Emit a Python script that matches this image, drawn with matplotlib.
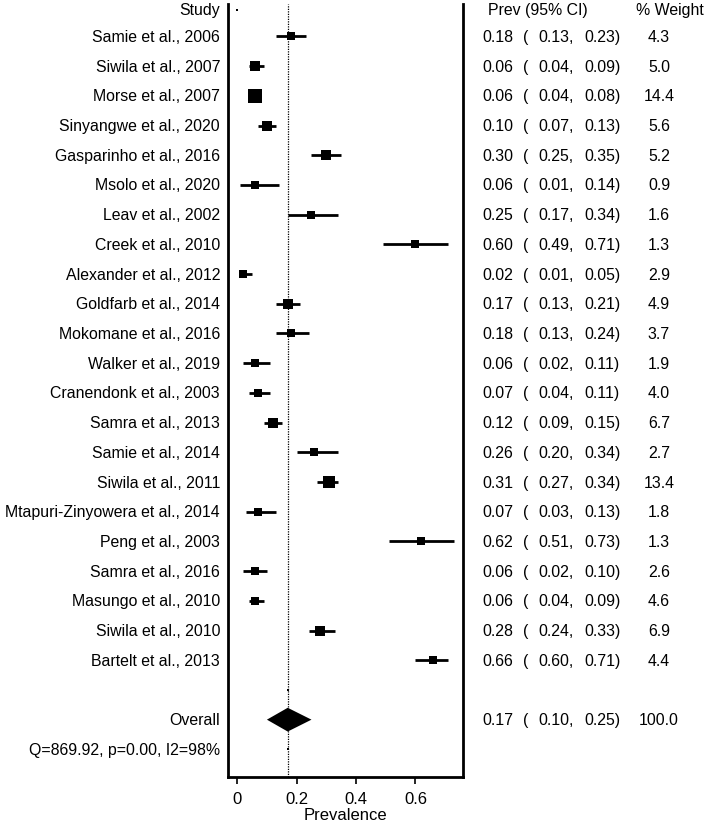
import matplotlib
matplotlib.use("Agg")
import matplotlib.pyplot as plt
from matplotlib.transforms import blended_transform_factory
import numpy as np

plt.rcParams['font.family'] = ['Liberation Sans', 'DejaVu Sans']

studies = ["Samie et al., 2006", "Siwila et al., 2007", "Morse et al., 2007",
           "Sinyangwe et al., 2020", "Gasparinho et al., 2016", "Msolo et al., 2020",
           "Leav et al., 2002", "Creek et al., 2010", "Alexander et al., 2012",
           "Goldfarb et al., 2014", "Mokomane et al., 2016", "Walker et al., 2019",
           "Cranendonk et al., 2003", "Samra et al., 2013", "Samie et al., 2014",
           "Siwila et al., 2011", "Mtapuri-Zinyowera et al., 2014", "Peng et al., 2003",
           "Samra et al., 2016", "Masungo et al., 2010", "Siwila et al., 2010",
           "Bartelt et al., 2013"]
prev = [0.18, 0.06, 0.06, 0.10, 0.30, 0.06, 0.25, 0.60, 0.02, 0.17, 0.18,
        0.06, 0.07, 0.12, 0.26, 0.31, 0.07, 0.62, 0.06, 0.06, 0.28, 0.66]
lower = [0.13, 0.04, 0.04, 0.07, 0.25, 0.01, 0.17, 0.49, 0.01, 0.13, 0.13,
         0.02, 0.04, 0.09, 0.20, 0.27, 0.03, 0.51, 0.02, 0.04, 0.24, 0.60]
upper = [0.23, 0.09, 0.08, 0.13, 0.35, 0.14, 0.34, 0.71, 0.05, 0.21, 0.24,
         0.11, 0.11, 0.15, 0.34, 0.34, 0.13, 0.73, 0.10, 0.09, 0.33, 0.71]
weight = [4.3, 5.0, 14.4, 5.6, 5.2, 0.9, 1.6, 1.3, 2.9, 4.9, 3.7,
          1.9, 4.0, 6.7, 2.7, 13.4, 1.8, 1.3, 2.6, 4.6, 6.9, 4.4]
overall = (0.17, 0.10, 0.25, 100.0)
het_text = "Q=869.92, p=0.00, I2=98%"
xticks = [0, 0.2, 0.4, 0.6]

W, H = 709, 828
fig = plt.figure(figsize=(W / 100, H / 100), dpi=100)
ax = fig.add_axes([227.7 / W, 1 - 778 / H, (463 - 227.7) / W, (778 - 5) / H])

n = len(studies)
rows = np.arange(n)
ov_row = n + 1
q_row = n + 2
head_row = -0.9

ax.set_xlim(-0.032, 0.76)
ax.set_ylim(q_row + 0.93, -1.09)

# reference line
ax.axvline(overall[0], color='black', lw=0.9, ls=(0, (1, 1)), zorder=1)

# CIs and squares
for i in range(n):
    ax.plot([lower[i], upper[i]], [rows[i], rows[i]], color='black', lw=2.0,
            solid_capstyle='butt', zorder=2)
    side_px = 7 + 0.42 * weight[i]
    ax.plot(prev[i], rows[i], marker='s', color='black', ms=side_px * 0.72,
            mew=0, zorder=3)

# diamond
m, lo, hi, _ = overall
ax.fill([lo, m, hi, m], [ov_row, ov_row - 0.4, ov_row, ov_row + 0.4],
        color='black', lw=0, zorder=3)

# tiny dots
ax.plot([0], [head_row], marker='s', color='black', ms=1.5, mew=0)
ax.plot([m, m], [n, q_row], ls='none', marker='s', color='black', ms=1.8, mew=0)

ax.spines['top'].set_visible(False)
for s in ['left', 'right', 'bottom']:
    ax.spines[s].set_linewidth(2.0)
ax.set_yticks([])
ax.set_xticks(xticks)
ax.set_xticklabels(['0', '0.2', '0.4', '0.6'], fontsize=12)
ax.tick_params(axis='x', length=5, width=1.2, pad=5)
ax.set_xlabel("Prevalence", fontsize=12, labelpad=1)

tr = blended_transform_factory(fig.transFigure, ax.transData)
fs = 11.4

def fx(px):
    return px / W

ax.text(fx(220), head_row, "Study", transform=tr, ha='right', va='center', fontsize=fs)
ax.text(fx(488), head_row, "Prev (95% CI)", transform=tr, ha='left', va='center', fontsize=fs)
ax.text(fx(636), head_row, "% Weight", transform=tr, ha='left', va='center', fontsize=fs)

def row_text(y, label, p, l, u, w):
    ax.text(fx(220), y, label, transform=tr, ha='right', va='center', fontsize=fs)
    ax.text(fx(482), y, f"{p:.2f}", transform=tr, ha='left', va='center', fontsize=fs)
    ax.text(fx(523), y, "(", transform=tr, ha='left', va='center', fontsize=fs)
    ax.text(fx(538), y, f"{l:.2f},", transform=tr, ha='left', va='center', fontsize=fs)
    ax.text(fx(584), y, f"{u:.2f})", transform=tr, ha='left', va='center', fontsize=fs)
    ax.text(fx(659), y, f"{w:.1f}", transform=tr, ha='center', va='center', fontsize=fs)

for i in range(n):
    row_text(rows[i], studies[i], prev[i], lower[i], upper[i], weight[i])

row_text(ov_row, "Overall", *overall)
ax.text(fx(220), q_row, het_text, transform=tr, ha='right', va='center', fontsize=fs)

fig.savefig("out.png", dpi=100)
